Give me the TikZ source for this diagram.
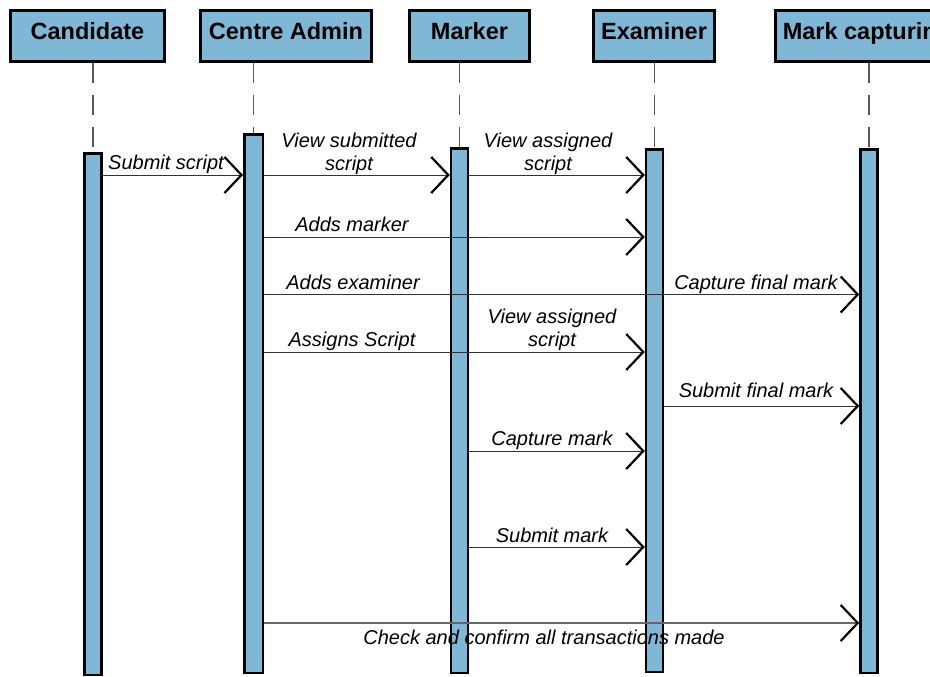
\documentclass[tikz,border=0pt]{standalone}
\usepackage{fontspec}
\setmainfont{Liberation Sans}
\usetikzlibrary{arrows.meta}
\definecolor{lifefill}{HTML}{7FB8D6}
\begin{document}
\begin{tikzpicture}[x=1pt,y=-1pt,
  head/.style={draw, line width=3pt, fill=lifefill, inner sep=0pt,
    minimum height=51pt, text height=17.5pt, text depth=10pt,
    font=\fontsize{23.5}{26}\selectfont\bfseries},
  actbar/.style={draw, line width=2.5pt, fill=lifefill, inner sep=0pt,
    minimum width=17pt},
  lifeline/.style={draw=black!65, line width=1.3pt, dash pattern=on 20pt off 12pt},
  msg/.style={draw=black!80, line width=1pt,
    -{Straight Barb[length=17pt,width=36pt,line width=2.2pt,color=black]}},
  lastmsg/.style={msg, draw=black!60, line width=1.2pt},
  msglabel/.style={font=\fontsize{20}{23}\selectfont\itshape, inner sep=0pt,
    align=center},
]
\useasboundingbox (0,0) rectangle (930,677);
\clip (0,0) rectangle (930,677);

% participant headers
\node[head, minimum width=154pt] (candHead)   at (87.5,36)  {Candidate};
\node[head, minimum width=171pt] (adminHead)  at (286,36)   {Centre Admin};
\node[head, minimum width=120pt] (markerHead) at (469.5,36) {Marker};
\node[head, minimum width=121pt] (examHead)   at (654,36)   {Examiner};
\node[head, minimum width=183pt] (mcHead)     at (867,36)   {Mark capturing};

% activation bars
\node[actbar, minimum height=521.5pt] (candBar) at (93,414) {};
\node[actbar, minimum width=18.5pt, minimum height=538.5pt] (adminBar) at (253.5,403.5) {};
\node[actbar, minimum height=524.5pt] (markerBar) at (459.5,410.5) {};
\node[actbar, minimum height=522.5pt] (examBar) at (654.5,410.5) {};
\node[actbar, minimum height=523.5pt] (mcBar) at (869,411) {};

% lifelines
\draw[lifeline] (candBar.north |- candHead.south) -- (candBar.north);
\draw[lifeline] (adminBar.north |- adminHead.south) -- (adminBar.north);
\draw[lifeline] (markerBar.north |- markerHead.south) -- (markerBar.north);
\draw[lifeline] (examBar.north |- examHead.south) -- (examBar.north);
\draw[lifeline] (mcBar.north |- mcHead.south) -- (mcBar.north);

% message levels
\coordinate (m1) at (0,175);
\coordinate (m2) at (0,237);
\coordinate (m3) at (0,294.5);
\coordinate (m4) at (0,352);
\coordinate (m5) at (0,406);
\coordinate (m6) at (0,451);
\coordinate (m7) at (0,547);
\coordinate (m8) at (0,623);

% messages
\draw[msg] (candBar.east |- m1) -- (adminBar.west |- m1);
\draw[msg] (adminBar.east |- m1) -- (markerBar.west |- m1);
\draw[msg] (markerBar.east |- m1) -- (examBar.west |- m1);
\draw[msg] (adminBar.east |- m2) -- (examBar.west |- m2);
\draw[msg] (adminBar.east |- m3) -- (mcBar.west |- m3);
\draw[msg] (adminBar.east |- m4) -- (examBar.west |- m4);
\draw[msg] (examBar.east |- m5) -- (mcBar.west |- m5);
\draw[msg] (markerBar.east |- m6) -- (examBar.west |- m6);
\draw[msg] (markerBar.east |- m7) -- (examBar.west |- m7);
\draw[lastmsg] (adminBar.east |- m8) -- (mcBar.west |- m8);

% message labels (multi-line labels sit on the baseline of their last line)
\node[msglabel, anchor=base] (l1)  at (166,169)   {Submit script};
\node[msglabel, anchor=base] (l2)  at (349,170)   {View submitted\\script};
\node[msglabel, anchor=base] (l3)  at (548,170)   {View assigned\\script};
\node[msglabel, anchor=base] (l4)  at (352,231)   {Adds marker};
\node[msglabel, anchor=base] (l5)  at (353,289)   {Adds examiner};
\node[msglabel, anchor=base] (l6)  at (756,289.5) {Capture final mark};
\node[msglabel, anchor=base] (l7)  at (352,346)   {Assigns Script};
\node[msglabel, anchor=base] (l8)  at (552,346)   {View assigned\\script};
\node[msglabel, anchor=base] (l9)  at (756,397)   {Submit final mark};
\node[msglabel, anchor=base] (l10) at (552,445)   {Capture mark};
\node[msglabel, anchor=base] (l11) at (552,542)   {Submit mark};
\node[msglabel, anchor=base] (l12) at (544,644)   {Check and confirm all transactions made};
\end{tikzpicture}
\end{document}
